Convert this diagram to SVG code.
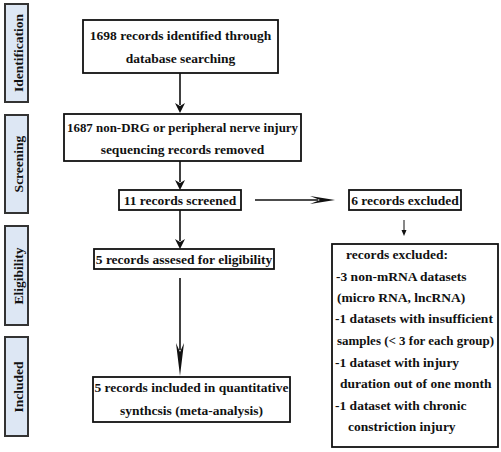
<svg xmlns="http://www.w3.org/2000/svg" width="501" height="452" viewBox="0 0 501 452">
<defs>
<style>
.side{fill:#dde7f4;stroke:#333;stroke-width:2}
.box{fill:#fff;stroke:#111;stroke-width:1.8}
text{font-family:'Liberation Serif','Times New Roman','DejaVu Serif',serif;font-weight:bold;font-size:13.5px;fill:#111}
.st{text-anchor:middle}
.c{text-anchor:middle}
.ln{stroke:#111;stroke-width:1.6;fill:none}
</style>
</defs>
<g id="phases">
<g id="identification"><rect class="side" x="5" y="4" width="23" height="98"/><text class="st" transform="translate(22.5,53) rotate(-90)">Identification</text></g>
<g id="screening"><rect class="side" x="5" y="115" width="23" height="98"/><text class="st" transform="translate(22.5,164) rotate(-90)">Screening</text></g>
<g id="eligibility"><rect class="side" x="5" y="226" width="23" height="99"/><text class="st" transform="translate(22.5,276) rotate(-90)">Eligibility</text></g>
<g id="included"><rect class="side" x="5" y="337" width="23" height="99"/><text class="st" transform="translate(22.5,387) rotate(-90)">Included</text></g>
</g>
<g id="connectors">
<line class="ln" x1="180" y1="73" x2="180" y2="105"/>
<path d="M175,103 L180,106 L185,103 L180,113 Z" fill="#111"/>
<line class="ln" x1="180" y1="161" x2="180" y2="182"/>
<path d="M175,180 L180,183 L185,180 L180,190 Z" fill="#111"/>
<line class="ln" x1="180" y1="210" x2="180" y2="241"/>
<path d="M175,239 L180,242 L185,239 L180,249 Z" fill="#111"/>
<line class="ln" x1="255" y1="200" x2="318" y2="200"/>
<path d="M310,196 L320,200 L310,204 L335,200 Z" fill="#111"/>
<line x1="404" y1="220" x2="404" y2="233" stroke="#111" stroke-width="1"/>
<path d="M401.5,230 L404,236 L406.5,230 Z" fill="#111"/>
<line class="ln" x1="180" y1="278" x2="180" y2="350"/>
<path d="M176,343 L180,352 L184,343 L180,376 Z" fill="#111"/>
</g>
<g id="n1"><rect class="box" x="83" y="20" width="195" height="53"/>
<text class="c" x="180.5" y="40">1698 records identified through</text>
<text class="c" x="180.5" y="63">database searching</text></g>
<g id="n2"><rect class="box" x="64" y="114" width="237" height="47"/>
<text x="67" y="132" textLength="231" lengthAdjust="spacingAndGlyphs">1687 non-DRG or peripheral nerve injury</text>
<text class="c" x="182.5" y="154">sequencing records removed</text></g>
<g id="n3"><rect class="box" x="119" y="190" width="122" height="20"/>
<text class="c" x="180" y="205">11 records screened</text></g>
<g id="n4"><rect class="box" x="94" y="249" width="180" height="20"/>
<text class="c" x="184" y="264">5 records assesed for eligibility</text></g>
<g id="n5"><rect class="box" x="93" y="377" width="197" height="45"/>
<text class="c" x="191.5" y="392">5 records included in quantitative</text>
<text class="c" x="191.5" y="415">synthcsis (meta-analysis)</text></g>
<g id="n6"><rect class="box" x="349" y="190" width="112" height="20"/>
<text class="c" x="405" y="205">6 records excluded</text></g>
<g id="n7"><rect class="box" x="332" y="244" width="166" height="203"/>
<text x="346" y="259">records excluded:</text>
<text x="336" y="281">-3 non-mRNA datasets</text>
<text x="337" y="302">(micro RNA, lncRNA)</text>
<text x="335" y="323">-1 datasets with insufficient</text>
<text x="337" y="345" textLength="157" lengthAdjust="spacingAndGlyphs">samples (&lt; 3 for each group)</text>
<text x="335" y="367">-1 dataset with  injury</text>
<text x="340" y="388">duration out of one month</text>
<text x="335" y="410">-1 dataset with chronic</text>
<text x="348" y="431">constriction injury</text></g>
</svg>
